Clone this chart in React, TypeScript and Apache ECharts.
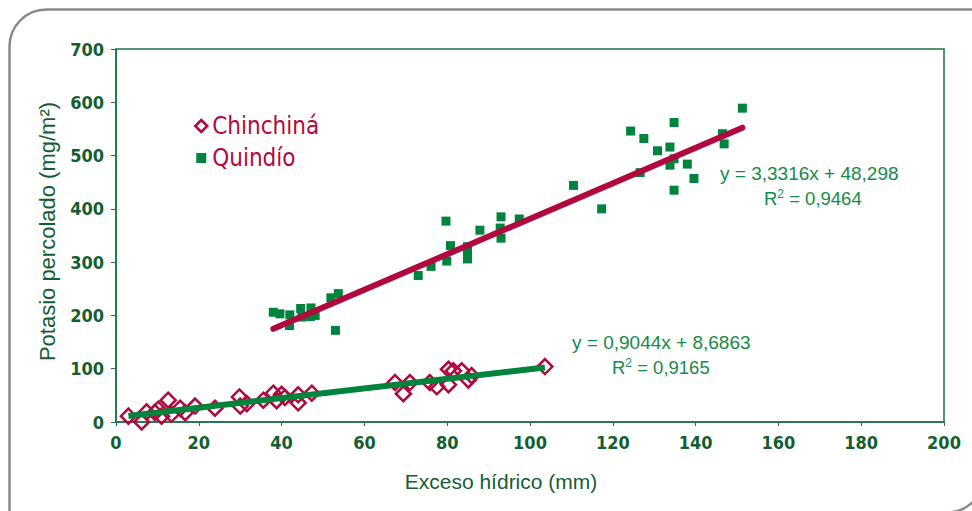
import React, { useEffect, useRef } from "react";
import * as echarts from "echarts";

// Chinchiná (hollow diamonds)
const chinchinaX = [3, 6.2, 7.4, 9.4, 10.2, 11, 12.6, 13.4, 15.5, 16.7, 19.1, 23.9, 29.8, 30, 31.6, 35.6, 38, 38.8, 40, 40.8, 44, 44, 47.3, 67.4, 69.4, 71, 75.8, 77.5, 80.3, 80.3, 81.5, 83.5, 85.1, 85.9, 103.6];
const chinchinaY = [11, 0, 19, 18, 24, 11, 41, 14.5, 26, 17.5, 30, 26, 47, 30, 34.5, 41, 54, 40, 52, 46, 51, 36, 54, 74, 53, 74, 74, 66, 99, 70, 96, 96, 79, 87, 104];

// Quindío (filled squares)
const quindioX = [38, 39.6, 41.9, 42, 44.6, 44.9, 47, 47.1, 48.1, 51.9, 53, 53.7, 73, 76.1, 79.7, 79.9, 80.8, 84.9, 84.9, 84.9, 87.9, 92.8, 93, 93, 97.4, 110.5, 117.3, 124.3, 126.6, 127.5, 130.8, 133.8, 133.8, 134.8, 134.8, 134.8, 138, 139.6, 146.5, 146.9, 151.3];
const quindioY = [206, 203, 181, 201, 213, 197, 198, 214, 200, 233, 172, 241, 275, 292, 377, 302, 331, 329, 316, 306, 360, 364, 385, 345, 381, 444, 400, 546, 468, 532, 509, 516, 482, 562, 494, 435, 484, 457, 541, 522, 589];

// Linear trend coefficients [Chinchiná, Quindío]
const trendSlopes = [0.9044, 3.3316];
const trendIntercepts = [8.6863, 48.298];
const equationTexts = ["y = 0,9044x + 8,6863", "y = 3,3316x + 48,298"];
const r2Texts = ["0,9165", "0,9464"];

const seriesNames = ["Chinchiná", "Quindío"];
const xTicks = [0, 20, 40, 60, 80, 100, 120, 140, 160, 180, 200];
const yTicks = [0, 100, 200, 300, 400, 500, 600, 700];

const CRIMSON = "#b1083e";
const GREEN = "#00843d";
const AXIS_GREEN = "#1f7043";
const LABEL_GREEN = "#135e31";
const EQ_GREEN = "#178a47";
const NARROW = "'Liberation Sans Narrow', 'DejaVu Sans Condensed', 'Liberation Sans', sans-serif";
const SANS = "'Liberation Sans', Arial, sans-serif";

function trend(xs: number[], m: number, b: number) {
  const lo = Math.min(...xs);
  const hi = Math.max(...xs);
  return [
    [lo, m * lo + b],
    [hi, m * hi + b],
  ];
}

export default function App() {
  const ref = useRef<HTMLDivElement>(null);
  useEffect(() => {
    if (!ref.current) return;
    const chart = echarts.init(ref.current, undefined, { renderer: "svg" });
    const chData = chinchinaX.map((x, i) => [x, chinchinaY[i]]);
    const qData = quindioX.map((x, i) => [x, quindioY[i]]);
    chart.setOption({
      animation: false,
      backgroundColor: "#ffffff",
      grid: {
        left: 116,
        right: 28,
        top: 49,
        bottom: 89,
        show: true,
        borderColor: AXIS_GREEN,
        borderWidth: 1.5,
        backgroundColor: "transparent",
      },
      legend: {
        orient: "vertical",
        left: 189,
        top: 109,
        itemGap: 8,
        itemWidth: 12,
        itemHeight: 12,
        textStyle: { color: CRIMSON, fontSize: 24, fontFamily: NARROW },
        data: [
          { name: seriesNames[0], icon: "diamond", itemStyle: { color: "#fff", borderColor: CRIMSON, borderWidth: 2.5, opacity: 1 } },
          { name: seriesNames[1], icon: "path://M0,0L0,0M1,1H11V11H1ZM12,12L12,12", itemStyle: { color: GREEN, opacity: 1 } },
        ],
      },
      xAxis: {
        type: "value",
        min: xTicks[0],
        max: xTicks[xTicks.length - 1],
        interval: xTicks[1] - xTicks[0],
        name: "Exceso hídrico (mm)",
        nameLocation: "middle",
        nameGap: 49,
        nameTextStyle: { color: LABEL_GREEN, fontSize: 21, fontFamily: SANS, padding: [0, 58, 0, 0] },
        axisLine: { lineStyle: { color: AXIS_GREEN, width: 1.5 } },
        axisTick: { show: true, length: 4, lineStyle: { color: AXIS_GREEN } },
        splitLine: { show: false },
        axisLabel: { color: LABEL_GREEN, fontSize: 18, fontFamily: NARROW, fontWeight: "bold", margin: 11 },
      },
      yAxis: {
        type: "value",
        min: yTicks[0],
        max: yTicks[yTicks.length - 1],
        interval: yTicks[1] - yTicks[0],
        name: "Potasio percolado (mg/m²)",
        nameLocation: "middle",
        nameGap: 58,
        nameTextStyle: { color: LABEL_GREEN, fontSize: 22, fontFamily: SANS, padding: [0, 0, 0, 8] },
        axisLine: { lineStyle: { color: AXIS_GREEN, width: 1.5 } },
        axisTick: { show: true, length: 5, lineStyle: { color: AXIS_GREEN } },
        splitLine: { show: false },
        axisLabel: { color: LABEL_GREEN, fontSize: 18, fontFamily: NARROW, fontWeight: "bold", margin: 12 },
      },
      series: [
        {
          name: seriesNames[0],
          type: "scatter",
          symbol: "diamond",
          symbolSize: 15,
          itemStyle: { color: "transparent", borderColor: CRIMSON, borderWidth: 2.5, opacity: 1 },
          data: chData,
          z: 2,
        },
        {
          name: seriesNames[1],
          type: "scatter",
          symbol: "rect",
          symbolSize: 9,
          itemStyle: { color: GREEN, opacity: 1 },
          data: qData,
          z: 2,
        },
        {
          name: "trend-ch",
          type: "line",
          data: trend(chinchinaX, trendSlopes[0], trendIntercepts[0]),
          showSymbol: false,
          symbol: "none",
          lineStyle: { color: GREEN, width: 6 },
          z: 3,
        },
        {
          name: "trend-q",
          type: "line",
          data: trend(quindioX, trendSlopes[1], trendIntercepts[1]),
          showSymbol: false,
          symbol: "none",
          lineStyle: { color: CRIMSON, width: 6, cap: "round" },
          z: 3,
        },
      ],
      graphic: [
        {
          type: "rect",
          shape: { x: 9.5, y: 9.5, width: 975, height: 503, r: [37, 0, 38, 0] },
          style: { fill: "none", stroke: "#8a8a8a", lineWidth: 2.5 },
          silent: true,
          z: -1,
        },
        {
          type: "text",
          left: 720,
          top: 164,
          style: { text: equationTexts[1], fill: EQ_GREEN, fontSize: 19, fontFamily: SANS },
        },
        {
          type: "text",
          left: 764,
          top: 188,
          style: {
            text: "R{s|2} = " + r2Texts[1],
            fill: EQ_GREEN,
            fontSize: 18.5,
            fontFamily: SANS,
            rich: { s: { fontSize: 12, verticalAlign: "top", fill: EQ_GREEN, padding: [0, 0, 8, 0] } },
          },
        },
        {
          type: "text",
          left: 572,
          top: 333,
          style: { text: equationTexts[0], fill: EQ_GREEN, fontSize: 19, fontFamily: SANS },
        },
        {
          type: "text",
          left: 612,
          top: 357,
          style: {
            text: "R{s|2} = " + r2Texts[0],
            fill: EQ_GREEN,
            fontSize: 18.5,
            fontFamily: SANS,
            rich: { s: { fontSize: 12, verticalAlign: "top", fill: EQ_GREEN, padding: [0, 0, 8, 0] } },
          },
        },
      ],
    });
    return () => chart.dispose();
  }, []);
  return (
    <div
      ref={ref}
      style={{ position: "absolute", left: 0, top: 0, width: 972, height: 511, background: "#fff" }}
    />
  );
}
